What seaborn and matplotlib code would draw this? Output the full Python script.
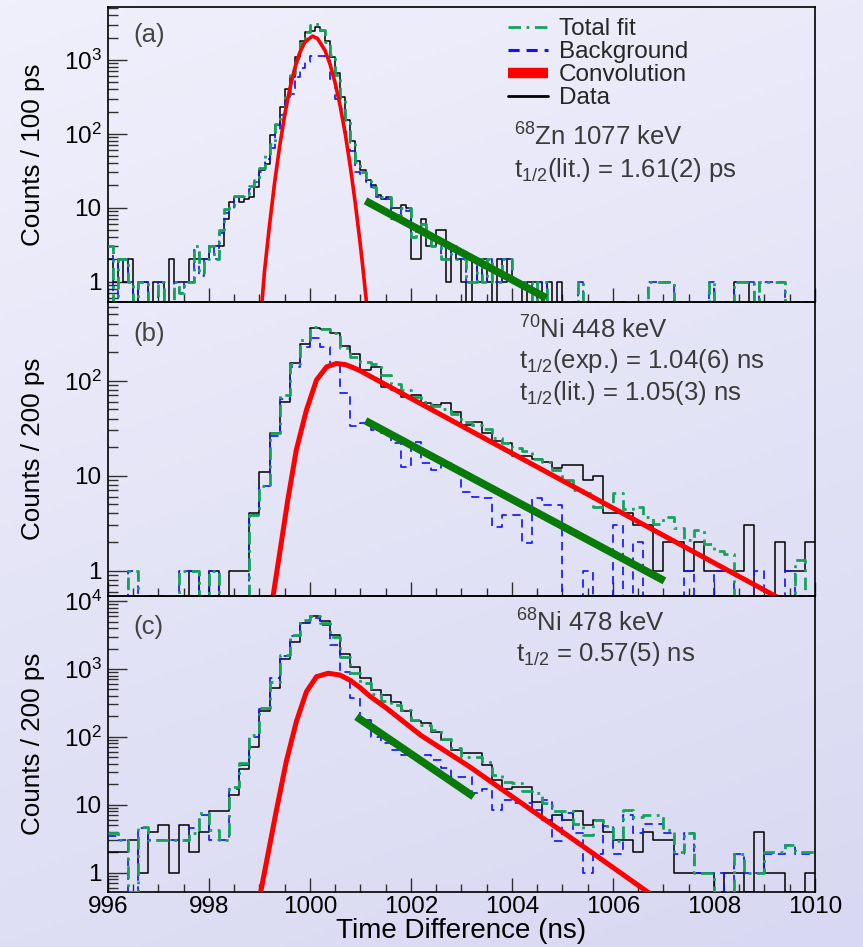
import numpy as np
import pandas as pd
import matplotlib
matplotlib.use("Agg")
import matplotlib.pyplot as plt
from matplotlib.colors import LinearSegmentedColormap
from matplotlib.ticker import LogLocator, MultipleLocator, FuncFormatter, NullFormatter
from matplotlib.lines import Line2D
import seaborn as sns

sns.set_theme(style="ticks")
plt.rcParams["font.family"] = ["Liberation Sans", "DejaVu Sans"]
plt.rcParams["mathtext.fontset"] = "custom"
plt.rcParams["mathtext.rm"] = "Liberation Sans"
plt.rcParams["mathtext.it"] = "Liberation Sans:italic"
plt.rcParams["lines.scale_dashes"] = False

# ---------------------------------------------------------------- data
T_START, T_STOP = 996.0, 1010.0

# (a) 68Zn 1077 keV, 100 ps bins
a_data = [2, 1, 2, 1, 2, 0, 1, 1, 0, 1,
          1, 0, 2, 1, 1, 1, 2, 2, 2, 2,
          3, 3, 3, 7, 12, 14, 12, 13, 14, 19,
          32, 39, 95, 130, 230, 410, 590, 1100, 1780, 2400,
          2500, 2830, 2500, 1800, 1100, 660, 315, 152, 81, 43,
          32, 24, 20, 15, 13, 14, 10, 10, 11, 10,
          2, 2, 7, 3, 3, 5, 5, 1, 3, 2,
          1, 0, 2, 1, 2, 1, 0, 2, 1, 2,
          1, 1, 0, 1, 1, 1, 0, 1, 0, 1,
          0, 0, 0, 0, 0, 0, 0, 0, 0, 0,
          0, 0, 0, 0, 0, 0, 0, 0, 0, 0,
          0, 0, 0, 0, 0, 0, 0, 0, 0, 0,
          0, 0, 0, 0, 1, 1, 1, 0, 0, 0,
          0, 0, 0, 0, 0, 0, 0, 0, 0, 0]
a_total = [3, 0, 2, 2, 1, 0, 1, 1, 0, 0,
           1, 0, 0, 1, 0.7, 1, 1, 3, 1.3, 2,
           3, 2, 5, 9.5, 10.6, 14.5, 14.5, 15, 19.7, 24,
           35, 53, 73, 137, 187, 330, 620, 1050, 1670, 2400,
           2960, 3030, 2520, 1770, 1170, 620, 300, 152, 77, 41,
           30, 23, 19, 14.5, 14, 14, 7, 8, 10, 10,
           4, 5, 6, 4, 3, 3, 2, 2, 3, 2,
           2, 1, 1, 2, 1, 2, 1, 1, 2, 2,
           1, 1, 1, 1, 0, 1, 1, 0, 0, 0,
           0, 0, 0, 1, 0, 0, 0, 0, 0, 0,
           0, 0, 0, 0, 0, 0, 0, 1, 1, 1,
           1, 1, 0, 0, 0, 0, 0, 0, 0, 1,
           0, 0, 0, 0, 1, 1, 1, 1, 0, 1,
           1, 1, 1, 1, 0, 0, 0, 0, 0, 0]
a_bkg = [3, 0, 2, 2, 1, 0, 1, 1, 0, 0,
         1, 0, 0, 1, 0.7, 1, 1, 2.7, 1.2, 2,
         3, 2, 4.5, 8.5, 9.5, 13, 14, 14, 18, 22,
         30, 45, 65, 110, 178, 270, 350, 590, 766, 944,
         1140, 1140, 1140, 1000, 560, 299, 219, 105, 59, 30,
         28, 22, 19, 14, 13, 13, 7, 8, 10, 9,
         4, 5, 6, 4, 3, 3, 2, 2, 3, 2,
         2, 1, 1, 2, 1, 2, 1, 1, 2, 2,
         1, 1, 1, 1, 0, 1, 1, 0, 0, 0,
         0, 0, 0, 1, 0, 0, 0, 0, 0, 0,
         0, 0, 0, 0, 0, 0, 0, 1, 1, 1,
         1, 1, 0, 0, 0, 0, 0, 0, 0, 1,
         0, 0, 0, 0, 1, 1, 1, 1, 0, 1,
         1, 1, 1, 1, 0, 0, 0, 0, 0, 0]
a_conv_t = [999.05, 999.1, 999.2, 999.3, 999.4, 999.5, 999.6, 999.7, 999.8, 999.9,
            1000.05, 1000.15, 1000.3, 1000.4, 1000.5, 1000.6, 1000.7, 1000.8, 1000.9,
            1001.0, 1001.05, 1001.15]
a_conv_n = [0.53, 1.38, 5.9, 21.8, 68, 180, 405, 776, 1265, 1750,
            2100, 1950, 1335, 865, 485, 235, 99, 35.8, 11.2,
            3.05, 1.5, 0.33]
a_slope_t = [1001.10, 1004.68]
a_slope_n = [12.4, 0.6]

# (b) 70Ni 448 keV, 200 ps bins
b_data = [0, 0, 0, 0, 0, 0, 0, 0, 1, 0,
          1, 0, 1, 1, 4, 11, 28, 60, 155, 246,
          355, 350, 315, 233, 190, 129, 140, 85, 79, 68,
          71, 58, 55, 58, 47, 34, 37, 28, 23, 22,
          16, 16, 15, 14, 12, 13, 13, 9, 10, 4,
          4, 4, 3, 3, 1, 2, 2, 1, 2, 1,
          1, 1, 1, 3, 0, 0, 2, 1, 1, 2]
b_total = [0, 0, 1, 0, 0, 0, 0, 1, 1, 0,
           1, 0, 0, 0, 3.9, 7.7, 28, 70, 150, 268,
           370, 350, 315, 219, 178, 158, 150, 115, 93, 80,
           68, 60, 54, 51, 45, 37, 34, 31, 25, 22,
           19.4, 18, 15, 14, 11.5, 9, 7, 6.5, 4.7, 4.7,
           6.5, 4.5, 4.7, 3.7, 3.1, 3.7, 2.8, 2.1, 2.7, 1.9,
           1.6, 1.5, 0, 0, 0, 0, 0, 0, 1.3, 0]
b_bkg = [0, 0, 1, 0, 0, 0, 0, 1, 1, 0,
         1, 0, 0, 0, 3.9, 7.7, 26, 65, 140, 228,
         279, 228, 146, 73.6, 33.3, 35.5, 30, 28, 22, 12.4,
         22.8, 13.5, 11.5, 13.5, 11.5, 6.8, 6, 5.8, 2.9, 3.85,
         3.85, 1.94, 5.8, 4.9, 4.9, 0, 0, 1, 0, 0,
         3, 0, 2, 0, 0, 0, 0, 1, 0, 0,
         1, 1, 0, 0, 1, 0, 0, 1, 0, 0]
b_conv_t = [999.26, 999.4, 999.56, 999.73, 999.93, 1000.13, 1000.33, 1000.52,
            1000.7, 1000.85, 1001.0, 1001.2, 1001.5, 1003.0, 1005.0, 1007.0, 1009.3]
b_conv_n = [0.5, 1.52, 5.5, 18.7, 49, 102, 140, 152,
            148, 138, 127, 111, 91, 33.5, 8.87, 2.35, 0.51]
b_slope_t = [1001.10, 1007.02]
b_slope_n = [37.9, 0.78]

# (c) 68Ni 478 keV, 200 ps bins
c_data = [2, 2, 3, 1, 4, 5, 1, 5, 2, 4,
          8, 8, 14, 34, 72, 240, 520, 1400, 2500, 4700,
          6100, 5100, 3160, 1640, 1080, 725, 490, 414, 330, 240,
          171, 158, 120, 90, 64, 57, 57, 38, 23, 17,
          18, 18, 11, 6, 7, 6, 8, 5, 6, 4,
          3, 3, 2, 4, 3, 3, 1, 1, 1, 1,
          0, 1, 1, 0, 4, 1, 1, 0, 0, 1]
c_total = [3.8, 3, 0, 4.7, 3, 3, 3, 3, 3.8, 7.5,
           4.2, 3, 18, 41, 105, 263, 650, 1580, 3150, 5300,
           6100, 4700, 3000, 1520, 870, 615, 430, 340, 295, 250,
           175, 150, 126, 93, 68, 51, 51, 43, 27, 22,
           21, 16, 15, 10.5, 8, 8, 5.3, 3.6, 6, 4.8,
           2.9, 8.4, 6.7, 7, 7, 4.3, 2, 3.8, 1, 1,
           0, 0, 1.9, 1, 1, 2, 2, 2.6, 2, 2]
c_bkg = [3.5, 3, 0, 4.5, 3, 3, 3, 3, 4.5, 7,
         3, 3, 17, 38, 100, 260, 725, 1550, 3100, 5000,
         5560, 4440, 2240, 915, 370, 177, 100, 80, 65, 55,
         50, 55, 45, 35, 26, 26, 15, 17, 8.4, 11.7,
         10.5, 10.5, 8.4, 11.7, 2.9, 7.5, 3.8, 1, 1.9, 4.8,
         1.9, 7.1, 3.8, 5.3, 5.3, 3.8, 1.9, 3.8, 1, 1,
         1, 0, 1.9, 1, 1, 1.9, 1.9, 2.6, 1.9, 1.9]
c_conv_t = [999.02, 999.14, 999.33, 999.53, 999.73, 999.93, 1000.13, 1000.36,
            1000.59, 1000.8, 1000.98, 1001.2, 1001.5, 1001.78, 1002.2, 1003.16,
            1005.0, 1006.72]
c_conv_n = [0.5, 1.45, 7.9, 43, 167, 463, 770, 865,
            816, 680, 540, 390, 270, 185, 105, 36.4,
            4.0, 0.5]
c_slope_t = [1000.92, 1003.24]
c_slope_n = [198, 13.2]

# ---------------------------------------------------------------- style
GREEN = "#15a35c"
BLUE = "#1010ff"
RED = "#ff0000"
SLOPE = "#087a08"
TXT = "#3a3a3a"
DASHDOT = (0, (9, 4, 2, 4))
DASHED = (0, (6, 4))

fig = plt.figure(figsize=(8.63, 9.47), dpi=100)

# lavender backdrop shading from top-left to bottom-right
bg = fig.add_axes([0, 0, 1, 1], zorder=-10)
yy, xx = np.mgrid[0:1:200j, 0:1:200j]
shade = 0.75 * yy + 0.25 * xx
cmap = LinearSegmentedColormap.from_list("lav", ["#f0f0fc", "#d8d8f2"])
bg.imshow(shade, cmap=cmap, aspect="auto", extent=[0, 1, 0, 1], origin="upper")
bg.axis("off")

L, W = 0.1251, 0.8192
ax_a = fig.add_axes([L, 0.6811, W, 0.3115])
ax_b = fig.add_axes([L, 0.3706, W, 0.3105])
ax_c = fig.add_axes([L, 0.0581, W, 0.3126])


def log_label(v, pos):
    e = int(round(np.log10(v)))
    if e == 0:
        return "1"
    if e == 1:
        return "10"
    return r"$\mathregular{10^{%d}}$" % e


def hist(ax, counts, width, floor, **kw):
    y = np.maximum(np.asarray(counts, float), floor)
    edges = T_START + width * np.arange(len(y) + 1)
    df = pd.DataFrame({"t": edges, "n": np.append(y, y[-1])})
    sns.lineplot(data=df, x="t", y="n", ax=ax, drawstyle="steps-post",
                 estimator=None, sort=False, errorbar=None, **kw)


def curve(ax, t, n, **kw):
    df = pd.DataFrame({"t": t, "n": n})
    sns.lineplot(data=df, x="t", y="n", ax=ax, estimator=None, sort=False,
                 errorbar=None, **kw)


def panel(ax, width, data, total, bkg, conv_t, conv_n, slope_t, slope_n,
          ylim, conv_lw):
    floor = ylim[0]
    hist(ax, data, width, floor, color="black", linewidth=1.1, zorder=3)
    hist(ax, bkg, width, floor, color=BLUE, linewidth=1.2, linestyle=DASHED, zorder=4)
    hist(ax, total, width, floor, color=GREEN, linewidth=2.0, linestyle=DASHDOT, zorder=5)
    curve(ax, conv_t, conv_n, color=RED, linewidth=conv_lw, zorder=6)
    curve(ax, slope_t, slope_n, color=SLOPE, linewidth=5.5,
          solid_capstyle="butt", zorder=7)

    ax.set_facecolor("none")
    ax.set_xlim(T_START, T_STOP)
    ax.set_yscale("log")
    ax.set_ylim(*ylim)
    ax.xaxis.set_major_locator(MultipleLocator(2))
    ax.xaxis.set_minor_locator(MultipleLocator(0.5))
    ax.yaxis.set_major_locator(LogLocator(base=10, numticks=12))
    ax.yaxis.set_minor_locator(LogLocator(base=10, subs=np.arange(2, 10), numticks=30))
    ax.yaxis.set_major_formatter(FuncFormatter(log_label))
    ax.yaxis.set_minor_formatter(NullFormatter())
    ax.tick_params(axis="both", which="both", direction="in", colors="#303030",
                   top=False, right=False, width=1.0)
    ax.tick_params(axis="x", which="major", length=10, labelsize=17.5, pad=3,
                   labelcolor="black")
    ax.tick_params(axis="x", which="minor", length=6)
    ax.tick_params(axis="y", which="major", length=14, labelsize=17.5, pad=4.5,
                   labelcolor="black")
    ax.tick_params(axis="y", which="minor", length=7)
    for s in ax.spines.values():
        s.set_color("black")
        s.set_linewidth(1.2)
    ax.set_xlabel("")
    ax.set_ylabel("")


panel(ax_a, 0.1, a_data, a_total, a_bkg, a_conv_t, a_conv_n, a_slope_t, a_slope_n,
      (0.53, 5200), 2.6)
panel(ax_b, 0.2, b_data, b_total, b_bkg, b_conv_t, b_conv_n, b_slope_t, b_slope_n,
      (0.54, 675), 3.6)
panel(ax_c, 0.2, c_data, c_total, c_bkg, c_conv_t, c_conv_n, c_slope_t, c_slope_n,
      (0.52, 11900), 3.6)

for ax in (ax_a, ax_b):
    ax.tick_params(axis="x", labelbottom=False)

ylab = {ax_a: "Counts / 100 ps", ax_b: "Counts / 200 ps", ax_c: "Counts / 200 ps"}
for ax, lab in ylab.items():
    ax.set_ylabel(lab, fontsize=18.7, color="black")
    ax.yaxis.set_label_coords(-0.089, 0.5)
ax_c.set_xlabel("Time Difference (ns)", fontsize=20, color="black")
ax_c.xaxis.set_label_coords(0.5, -0.088)

# panel tags
for ax, tag, y in ((ax_a, "(a)", 0.882), (ax_b, "(b)", 0.868), (ax_c, "(c)", 0.871)):
    ax.text(0.0354, y, tag, transform=ax.transAxes, fontsize=18.5, color="#444444",
            va="baseline", ha="left")

# level annotations
notes = [
    (ax_a, 0.574, [(0.530, r"$\mathregular{^{68}}$Zn 1077 keV"),
                   (0.425, r"t$\mathregular{_{1/2}}$(lit.) = 1.61(2) ps")]),
    (ax_b, 0.581, [(0.8765, r"$\mathregular{^{70}}$Ni 448 keV"),
                   (0.7745, r"t$\mathregular{_{1/2}}$(exp.) = 1.04(6) ns"),
                   (0.6667, r"t$\mathregular{_{1/2}}$(lit.) = 1.05(3) ns")]),
    (ax_c, 0.5765, [(0.879, r"$\mathregular{^{68}}$Ni 478 keV"),
                    (0.780, r"t$\mathregular{_{1/2}}$ = 0.57(5) ns")]),
]
for ax, x, lines in notes:
    for y, s in lines:
        ax.text(x, y, s, transform=ax.transAxes, fontsize=18.5, color=TXT,
                va="baseline", ha="left", zorder=10)

handles = [
    Line2D([], [], color=GREEN, linewidth=2.0, linestyle=DASHDOT),
    Line2D([], [], color=BLUE, linewidth=2.2, linestyle=(0, (8, 5))),
    Line2D([], [], color=RED, linewidth=7.5, solid_capstyle="butt"),
    Line2D([], [], color="black", linewidth=2.0),
]
labels = ["Total fit", "Background", "Convolution", "Data"]
ax_a.legend(handles, labels, loc="upper left", bbox_to_anchor=(0.566, 0.962),
            frameon=False, fontsize=17.5, handlelength=1.65, handletextpad=0.45,
            labelspacing=0.04, borderpad=0, borderaxespad=0)

fig.savefig("out.png", dpi=100, facecolor=fig.get_facecolor())
